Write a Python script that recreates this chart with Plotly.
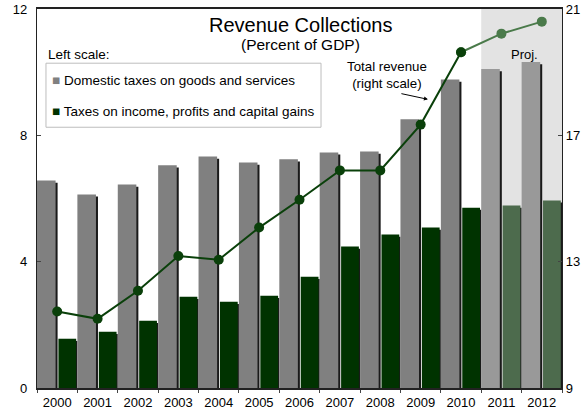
import plotly.graph_objects as go

years = ["2000", "2001", "2002", "2003", "2004", "2005", "2006", "2007", "2008", "2009", "2010", "2011", "2012"]
domestic = [6.57, 6.13, 6.44, 7.05, 7.33, 7.14, 7.24, 7.46, 7.49, 8.51, 9.77, 10.10, 10.32]
income = [1.56, 1.78, 2.13, 2.89, 2.73, 2.92, 3.52, 4.48, 4.86, 5.08, 5.71, 5.78, 5.94]
total = [11.42, 11.19, 12.08, 13.18, 13.06, 14.08, 14.96, 15.89, 15.89, 17.34, 19.63, 20.22, 20.60]
legend_names = ["Domestic taxes on goods and services", "Taxes on income, profits and capital gains"]
n_hist = 11  # 2000-2010 actual, 2011-2012 projected

x = list(range(len(years)))
FONT = "Liberation Sans, Arial, sans-serif"
GRAY, GREEN = "#808080", "#003300"
GRAY_P, GREEN_P = "#999999", "#4d6b4d"

gray_cols = [GRAY] * n_hist + [GRAY_P] * (len(years) - n_hist)
green_cols = [GREEN] * n_hist + [GREEN_P] * (len(years) - n_hist)

fig = go.Figure()

# bar shadows
fig.add_trace(go.Bar(x=x, y=[v - 0.07 for v in domestic], offset=-0.45, width=0.46,
                     marker=dict(color="#1a1a1a", line=dict(width=0)), showlegend=False, hoverinfo="skip"))
fig.add_trace(go.Bar(x=x, y=[v - 0.07 for v in income], offset=0.07, width=0.43,
                     marker=dict(color="#1a1a1a", line=dict(width=0)), showlegend=False, hoverinfo="skip"))
# main bars
fig.add_trace(go.Bar(x=x, y=domestic, offset=-0.5, width=0.46, name=legend_names[0],
                     marker=dict(color=gray_cols, line=dict(width=0)), showlegend=False))
fig.add_trace(go.Bar(x=x, y=income, offset=0.03, width=0.44, name=legend_names[1],
                     marker=dict(color=green_cols, line=dict(width=0)), showlegend=False))

# total revenue line (right scale)
fig.add_trace(go.Scatter(x=x[n_hist - 1:], y=total[n_hist - 1:], yaxis="y2", mode="lines+markers",
                         line=dict(color="#4a7a4a", width=2),
                         marker=dict(color="#4a7a4a", size=10), showlegend=False, hoverinfo="skip"))
fig.add_trace(go.Scatter(x=x[:n_hist], y=total[:n_hist], yaxis="y2", mode="lines+markers",
                         line=dict(color="#0a400a", width=2),
                         marker=dict(color="#0a400a", size=10), showlegend=False, hoverinfo="skip"))

fig.update_layout(
    width=584, height=414,
    margin=dict(l=37, r=22, t=9, b=26),
    paper_bgcolor="white", plot_bgcolor="white",
    barmode="overlay",
    font=dict(family=FONT, size=13, color="black"),
    showlegend=False,
    xaxis=dict(range=[-0.5, 12.5], tickmode="array", tickvals=x, ticktext=years, automargin=False,
               showgrid=False, zeroline=False, showline=True, linecolor="#222", linewidth=1.5,
               mirror=True, ticks="", tickfont=dict(size=13), ticklabelstandoff=2,
               minor=dict(tick0=0.5, dtick=1, ticks="outside", ticklen=3, tickcolor="#444")),
    yaxis=dict(range=[0, 12], tickvals=[0, 4, 8, 12], showgrid=False, zeroline=False, automargin=False,
               showline=True, linecolor="#222", linewidth=1.2, mirror=True, ticklabelstandoff=6,
               ticks="inside", ticklen=4, tickcolor="#444", tickfont=dict(size=13)),
    yaxis2=dict(range=[9, 21], tickvals=[9, 13, 17, 21], overlaying="y", side="right", automargin=False,
                showgrid=False, zeroline=False, showline=True, linecolor="#222", linewidth=1.2,
                ticks="inside", ticklen=4, tickcolor="#444", tickfont=dict(size=13)),
    shapes=[
        dict(type="rect", xref="x", yref="paper", x0=10.5, x1=12.5, y0=0, y1=1,
             fillcolor="#e3e3e3", line=dict(width=0), layer="below"),
        dict(type="rect", xref="paper", yref="paper", x0=0.0171, x1=0.541, y0=0.688, y1=0.857,
             fillcolor="white", line=dict(color="#bdbdbd", width=1), layer="above"),
    ],
    annotations=[
        dict(text="Revenue Collections", xref="paper", yref="paper", x=0.501, y=0.958,
             xanchor="center", yanchor="middle", showarrow=False, font=dict(size=20)),
        dict(text="(Percent of GDP)", xref="paper", yref="paper", x=0.501, y=0.907,
             xanchor="center", yanchor="middle", showarrow=False, font=dict(size=15.5)),
        dict(text="Left scale:", xref="paper", yref="paper", x=0.017, y=0.881, xanchor="left",
             yanchor="middle", showarrow=False, font=dict(size=13.5)),
        dict(text=f"<span style='color:{GRAY}'>■</span> {legend_names[0]}", xref="paper", yref="paper",
             x=0.024, y=0.812, xanchor="left", yanchor="middle", showarrow=False, font=dict(size=13.5)),
        dict(text=f"<span style='color:{GREEN}'>■</span> {legend_names[1]}", xref="paper", yref="paper",
             x=0.024, y=0.730, xanchor="left", yanchor="middle", showarrow=False, font=dict(size=13.5)),
        dict(text="Total revenue<br>(right scale)", xref="x", yref="y", x=8.16, y=9.9,
             xanchor="center", yanchor="middle", showarrow=False, font=dict(size=13.3)),
        dict(text="", xref="x", yref="y", x=9.18, y=9.14, ax=-28, ay=-6,
             showarrow=True, arrowhead=2, arrowsize=0.8, arrowwidth=1, arrowcolor="black"),
        dict(text="Proj.", xref="x", yref="paper", x=11.58, y=0.881,
             xanchor="center", yanchor="middle", showarrow=False, font=dict(size=13)),
    ],
)

fig.write_html("out.html")
